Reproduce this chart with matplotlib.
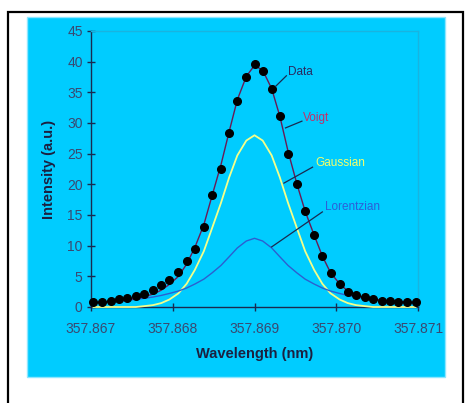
import matplotlib
matplotlib.use("Agg")
import matplotlib.pyplot as plt
from matplotlib.patches import Rectangle

plt.rcParams['font.family'] = ['Liberation Sans', 'DejaVu Sans']

# ---- data ----
wavelength = [357.86703, 357.86713, 357.86724, 357.86734, 357.86744, 357.86755,
              357.86765, 357.86776, 357.86786, 357.86796, 357.86807, 357.86817,
              357.86827, 357.86838, 357.86848, 357.86859, 357.86869, 357.86879,
              357.86890, 357.86900, 357.86910, 357.86921, 357.86931, 357.86941,
              357.86952, 357.86962, 357.86973, 357.86983, 357.86993, 357.87004,
              357.87014, 357.87024, 357.87035, 357.87045, 357.87056, 357.87066,
              357.87076, 357.87087, 357.87097]
data = [0.76, 0.87, 1.03, 1.25, 1.41, 1.73, 2.11, 2.77, 3.52, 4.39, 5.64, 7.43,
        9.49, 13.12, 18.33, 22.56, 28.36, 33.62, 37.47, 39.58, 38.55, 35.57,
        31.18, 25.0, 20.06, 15.72, 11.77, 8.3, 5.48, 3.74, 2.44, 1.95, 1.63,
        1.25, 1.03, 0.92, 0.87, 0.76, 0.76]
voigt = [0.7, 0.8, 0.92, 1.06, 1.22, 1.42, 1.7, 2.1, 2.75, 3.7, 5.0, 7.0, 9.7,
         13.4, 18.1, 23.2, 28.6, 33.8, 37.6, 39.4, 38.6, 35.6, 31.1, 25.4, 20.0,
         15.6, 11.7, 8.3, 5.6, 3.8, 2.6, 1.95, 1.55, 1.28, 1.1, 0.96, 0.86, 0.78,
         0.72]
gaussian = [0, 0, 0, 0, 0, 0, 0.14, 0.31, 0.64, 1.23, 2.23, 3.79, 6.05, 9.09,
            12.82, 16.98, 21.13, 24.71, 27.14, 28.0, 27.14, 24.71, 21.13, 16.98,
            12.82, 9.09, 6.05, 3.79, 2.23, 1.23, 0.64, 0.31, 0.14, 0, 0, 0, 0, 0, 0]
lorentzian = [0.71, 0.79, 0.88, 0.98, 1.1, 1.25, 1.42, 1.63, 1.89, 2.21, 2.6,
              3.1, 3.74, 4.54, 5.55, 6.78, 8.19, 9.63, 10.76, 11.2, 10.76, 9.63,
              8.19, 6.78, 5.55, 4.54, 3.74, 3.1, 2.6, 2.21, 1.89, 1.63, 1.42,
              1.25, 1.1, 0.98, 0.88, 0.79, 0.71]
x_ticks = [357.867, 357.868, 357.869, 357.870, 357.871]
x_tick_labels = ["357.867", "357.868", "357.869", "357.870", "357.871"]
y_ticks = [0, 5, 10, 15, 20, 25, 30, 35, 40, 45]

W, H = 465, 403
fig = plt.figure(figsize=(W / 100, H / 100), dpi=100)
fig.patch.set_facecolor('white')

CYAN = '#00CCFF'
# chart area background
fig.patches.append(Rectangle((27 / W, 1 - 377 / H), 418 / W, 360 / H,
                             transform=fig.transFigure, facecolor=CYAN,
                             edgecolor='#8ee6ff', linewidth=1.0, zorder=-2))
# outer black frame
fig.patches.append(Rectangle((7.5 / W, -0.05), 455.5 / W, 1 - 12 / H + 0.05,
                             transform=fig.transFigure, facecolor='none',
                             edgecolor='black', linewidth=1.6, zorder=-2))

ax = fig.add_axes([91 / W, 1 - 307 / H, (418 - 91) / W, (307 - 31) / H])
ax.set_zorder(1)
ax.set_facecolor(CYAN)

NAVY = '#1a2a50'
ax.plot(wavelength, gaussian, color='#F4FF8A', lw=1.3, zorder=4, clip_on=False)
ax.plot(wavelength, lorentzian, color='#2c5fd0', lw=1.0, zorder=4, clip_on=False)
ax.plot(wavelength, voigt, color='#6a1a55', lw=1.0, zorder=5, clip_on=False)
ax.plot(wavelength, data, linestyle='none', marker='o', markersize=5.5,
        color='black', zorder=6, clip_on=False)

ax.set_xlim(357.867, 357.871)
ax.set_ylim(0, 45)
ax.set_xticks(x_ticks)
ax.set_xticklabels(x_tick_labels)
ax.set_yticks(y_ticks)

tick_color = '#3a4870'
ax.tick_params(axis='both', direction='inout', length=6, width=1.0,
               color=NAVY, labelsize=10, labelcolor=tick_color)
ax.tick_params(axis='y', pad=3)
ax.tick_params(axis='x', pad=8)

for side in ('left', 'bottom'):
    ax.spines[side].set_color(NAVY)
    ax.spines[side].set_linewidth(1.0)
for side in ('top', 'right'):
    ax.spines[side].set_color('#19b4e0')
    ax.spines[side].set_linewidth(1.0)

ax.set_xlabel('Wavelength (nm)', fontsize=10.5, fontweight='bold', color='#1c2040')
ax.set_ylabel('Intensity (a.u.)', fontsize=10.5, fontweight='bold', color='#1c2040')
ax.xaxis.set_label_coords(0.5, -40 / 276)
ax.yaxis.set_label_coords(-35 / 327, 0.5)

# labels with leader lines
labels = [
    ('Data', '#2a2a60', (357.86941, 38.3), (357.86926, 36.0), (357.86939, 37.7)),
    ('Voigt', '#c0306a', (357.86959, 30.8), (357.86938, 29.2), (357.86958, 30.3)),
    ('Gaussian', '#F4FF6A', (357.86974, 23.5), (357.86936, 20.2), (357.86971, 22.8)),
    ('Lorentzian', '#2c5fd8', (357.86986, 16.3), (357.86921, 9.8), (357.86983, 15.5)),
]
for txt, col, tpos, p0, p1 in labels:
    ax.plot([p0[0], p1[0]], [p0[1], p1[1]], color=NAVY, lw=0.9, zorder=7)
    ax.text(tpos[0], tpos[1], txt, color=col, fontsize=8.5, ha='left',
            va='center', zorder=8)

fig.savefig('out.png', dpi=100, facecolor='white')
